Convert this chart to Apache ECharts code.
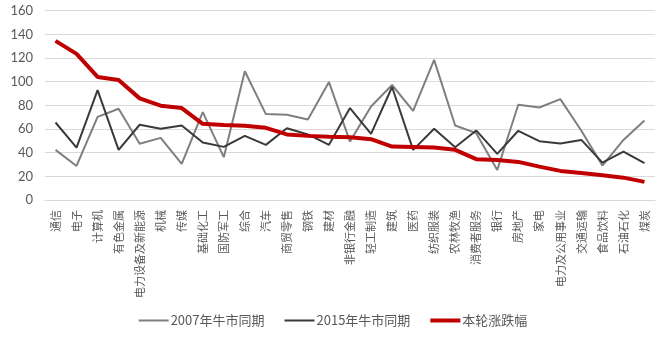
<!DOCTYPE html>
<html>
<head>
<meta charset="utf-8">
<script src="https://cdn.jsdelivr.net/npm/echarts@6/dist/echarts.min.js"></script>
<style>
  html, body { margin: 0; padding: 0; background: #fff; }
  #chart { width: 666px; height: 339px; }
</style>
</head>
<body>
<div id="chart"></div>
<script>
// Industry categories (ordered by current-round gain)
const categories = ['通信','电子','计算机','有色金属','电力设备及新能源','机械','传媒','基础化工','国防军工','综合','汽车','商贸零售','钢铁','建材','非银行金融','轻工制造','建筑','医药','纺织服装','农林牧渔','消费者服务','银行','房地产','家电','电力及公用事业','交通运输','食品饮料','石油石化','煤炭'];

// 2007 bull market, same period (%)
const bull2007 = [42.4, 28.8, 70.3, 77.1, 47.5, 52.5, 30.5, 74.3, 36.2, 108.8, 72.6, 72.0, 68.0, 99.7, 49.4, 79.0, 97.2, 75.4, 118.4, 63.0, 56.5, 25.4, 80.5, 78.2, 85.3, 58.5, 29.1, 50.8, 67.2];

// 2015 bull market, same period (%)
const bull2015 = [65.5, 44.3, 92.9, 42.4, 63.6, 60.2, 63.0, 48.6, 44.9, 54.2, 46.6, 60.7, 55.4, 46.6, 77.7, 55.9, 95.5, 42.4, 60.2, 44.6, 58.8, 39.0, 58.5, 49.7, 47.7, 50.8, 31.6, 40.9, 31.1];

// Current round change (%)
const currentRound = [134.5, 123.5, 104.0, 101.4, 85.9, 79.7, 77.7, 64.4, 63.3, 62.7, 61.0, 55.4, 54.2, 53.4, 53.0, 51.4, 45.2, 44.9, 44.3, 42.4, 34.5, 33.9, 32.2, 28.2, 24.6, 22.9, 20.9, 18.9, 15.3];

const yTicks = { min: 0, max: 160, interval: 20 };

const textColor = '#595959';
const fontNum = 'Lato, "Noto Sans CJK SC", sans-serif';
const fontCJK = '"Noto Sans CJK SC", sans-serif';

// Legend swatches: a 30x4 box, thin bar for the gray lines, full-height bar for red
const thinIcon = 'path://M0,0H30V0.01H0Z M0,1H30V3H0Z M0,3.99H30V4H0Z';
const thickIcon = 'path://M0,0H30V4H0Z';

const chart = echarts.init(document.getElementById('chart'), null, { renderer: 'canvas' });
chart.setOption({
  animation: false,
  backgroundColor: '#ffffff',
  grid: { left: 45, right: 11, top: 10.7, bottom: 139, containLabel: false },
  legend: {
    bottom: 7,
    left: 'center',
    itemGap: 20,
    itemWidth: 30,
    itemHeight: 4,
    textStyle: { color: textColor, fontSize: 13, fontFamily: fontCJK, padding: [0, 0, 0, -3] },
    data: [
      { name: '2007年牛市同期', icon: thinIcon },
      { name: '2015年牛市同期', icon: thinIcon },
      { name: '本轮涨跌幅', icon: thickIcon }
    ]
  },
  xAxis: {
    type: 'category',
    data: categories,
    boundaryGap: true,
    axisLine: { show: true, lineStyle: { color: '#d9d9d9', width: 1 } },
    axisTick: { show: false },
    axisLabel: {
      interval: 0,
      rotate: 90,
      margin: 10,
      color: textColor,
      fontSize: 11,
      fontFamily: fontCJK
    }
  },
  yAxis: {
    type: 'value',
    min: yTicks.min,
    max: yTicks.max,
    interval: yTicks.interval,
    axisLine: { show: false },
    axisTick: { show: false },
    splitLine: { lineStyle: { color: '#d9d9d9', width: 1 } },
    axisLabel: { color: textColor, fontSize: 13, fontFamily: fontNum, margin: 12 }
  },
  series: [
    {
      name: '2007年牛市同期',
      type: 'line',
      data: bull2007,
      symbol: 'none',
      lineStyle: { color: '#7f7f7f', width: 2 },
      itemStyle: { color: '#7f7f7f' }
    },
    {
      name: '2015年牛市同期',
      type: 'line',
      data: bull2015,
      symbol: 'none',
      lineStyle: { color: '#3a3a3a', width: 2 },
      itemStyle: { color: '#3a3a3a' }
    },
    {
      name: '本轮涨跌幅',
      type: 'line',
      data: currentRound,
      symbol: 'none',
      lineStyle: { color: '#c00000', width: 4 },
      itemStyle: { color: '#c00000' },
      z: 3
    }
  ]
});
</script>
</body>
</html>
